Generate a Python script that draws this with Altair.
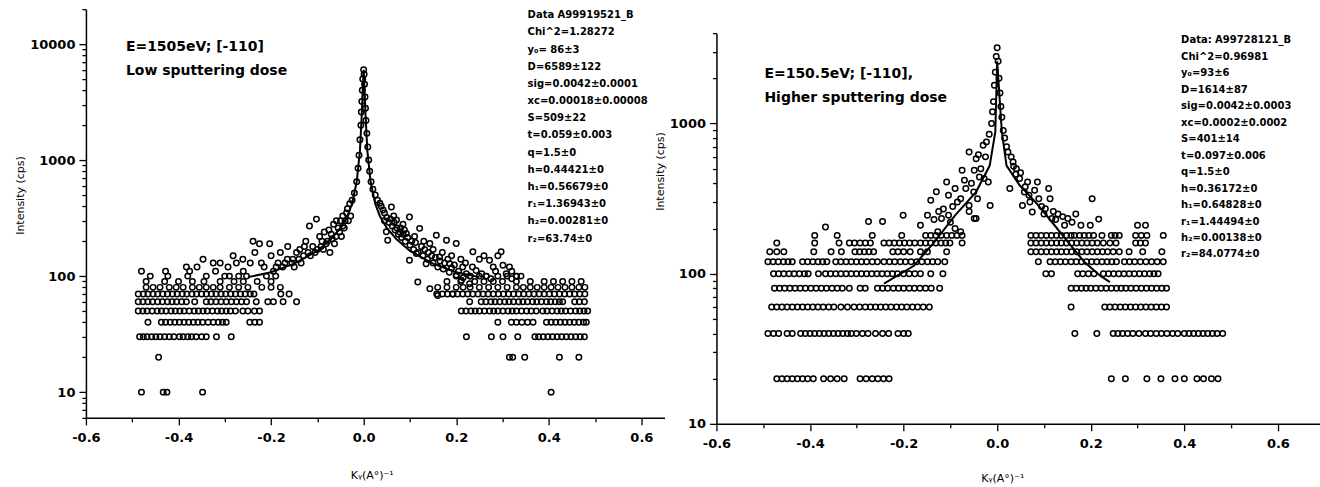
import altair as alt
import pandas as pd

# ---------------- LEFT PANEL  (E=1505eV, low sputtering dose) ----------------
L_LEVEL_Y = [10, 20, 30, 40, 50, 60, 70, 80, 90, 100]
L_LEVEL_X = [
    [-0.480, -0.433, -0.425, -0.348, 0.405],
    [-0.443, 0.315, 0.322, 0.348, 0.423, 0.465],
    [-0.484, -0.476, -0.468, -0.458, -0.449, -0.440, -0.430, -0.420, -0.410, -0.398, -0.390,
     -0.380, -0.372, -0.362, -0.350, -0.340, -0.318, -0.286, 0.222, 0.276, 0.301, 0.333, 0.370,
     0.378, 0.388, 0.398, 0.408, 0.418, 0.428, 0.438, 0.448, 0.458, 0.468, 0.477],
    [-0.466, -0.437, -0.428, -0.418, -0.408, -0.398, -0.388, -0.378, -0.368, -0.358, -0.348,
     -0.336, -0.325, -0.314, -0.305, -0.297, -0.246, -0.235, -0.225, 0.290, 0.319, 0.330, 0.342,
     0.354, 0.366, 0.395, 0.405, 0.415, 0.425, 0.435, 0.445, 0.455, 0.465, 0.475, 0.481],
    [-0.487, -0.477, -0.468, -0.457, -0.446, -0.437, -0.427, -0.416, -0.407, -0.397, -0.388,
     -0.377, -0.366, -0.357, -0.347, -0.338, -0.327, -0.316, -0.307, -0.297, -0.288, -0.277,
     -0.261, -0.250, -0.236, -0.225, 0.211, 0.221, 0.232, 0.241, 0.250, 0.261, 0.272, 0.281,
     0.290, 0.301, 0.312, 0.321, 0.330, 0.341, 0.352, 0.362, 0.373, 0.387, 0.396, 0.407, 0.418,
     0.427, 0.436, 0.447, 0.458, 0.467, 0.476, 0.484],
    [-0.487, -0.477, -0.466, -0.456, -0.445, -0.435, -0.424, -0.414, -0.404, -0.393, -0.383,
     -0.365, -0.340, -0.330, -0.319, -0.308, -0.297, -0.286, -0.275, -0.264, -0.253, -0.232,
     -0.207, -0.195, -0.174, -0.145, 0.229, 0.254, 0.264, 0.275, 0.284, 0.294, 0.305, 0.314,
     0.324, 0.335, 0.344, 0.354, 0.365, 0.374, 0.384, 0.395, 0.404, 0.414, 0.423, 0.430, 0.456,
     0.466, 0.477],
    [-0.487, -0.476, -0.466, -0.455, -0.445, -0.434, -0.424, -0.413, -0.403, -0.392, -0.382,
     -0.371, -0.361, -0.350, -0.340, -0.329, -0.319, -0.308, -0.298, -0.287, -0.277, -0.266,
     -0.256, -0.245, -0.237, -0.179, -0.161, 0.158, 0.170, 0.181, 0.192, 0.203, 0.214, 0.225,
     0.236, 0.247, 0.258, 0.269, 0.280, 0.291, 0.302, 0.313, 0.324, 0.335, 0.346, 0.357, 0.368,
     0.379, 0.390, 0.401, 0.412, 0.423, 0.434, 0.445, 0.456, 0.467, 0.478],
    [-0.470, -0.455, -0.440, -0.420, -0.405, -0.390, -0.370, -0.355, -0.340, -0.325, -0.310,
     -0.290, -0.270, -0.250, -0.220, -0.200, -0.180, 0.160, 0.180, 0.200, 0.215, 0.230, 0.250,
     0.270, 0.290, 0.310, 0.330, 0.345, 0.360, 0.375, 0.390, 0.405, 0.420, 0.435, 0.450, 0.465,
     0.478],
    [-0.470, -0.430, -0.400, -0.370, -0.345, -0.310, -0.280, -0.260, -0.230, -0.200, 0.180,
     0.210, 0.240, 0.260, 0.280, 0.300, 0.330, 0.360, 0.390, 0.410, 0.430, 0.450, 0.470],
    [-0.461, -0.423, -0.380, -0.340, -0.300, -0.270, -0.253, -0.210, -0.190, 0.200, 0.230, 0.250,
     0.265, 0.290, 0.310, 0.330],
]
L_BAND_X = [-0.480, -0.428, -0.383, -0.376, -0.347, -0.325, -0.360, -0.310, -0.282, -0.293,
            -0.261, -0.245, -0.235, -0.239, -0.225, -0.203, -0.221, -0.189, -0.200, -0.180,
            -0.170, -0.164, -0.153, -0.150, -0.140, -0.138, -0.130, -0.125, -0.120, -0.117,
            -0.110, -0.102, -0.100, -0.095, -0.090, -0.085, -0.081, -0.075, -0.073, -0.070,
            -0.065, -0.060, -0.059, -0.055, -0.050, -0.045, -0.045, -0.040, -0.037, -0.035,
            -0.030, -0.025, -0.020, -0.015, -0.012, -0.010, -0.008, -0.006, -0.005, -0.004,
            -0.003, -0.002, 0.000, 0.001, 0.002, 0.003, 0.004, 0.005, 0.007, 0.009, 0.011,
            0.013, 0.016, 0.020, 0.025, 0.030, 0.035, 0.038, 0.042, 0.045, 0.049, 0.050,
            0.052, 0.055, 0.060, 0.062, 0.065, 0.068, 0.071, 0.075, 0.080, 0.082, 0.085,
            0.090, 0.092, 0.099, 0.099, 0.100, 0.108, 0.110, 0.114, 0.117, 0.118, 0.121,
            0.128, 0.130, 0.135, 0.138, 0.143, 0.143, 0.150, 0.150, 0.157, 0.160, 0.160,
            0.164, 0.170, 0.172, 0.179, 0.185, 0.186, 0.190, 0.193, 0.200, 0.200, 0.210,
            0.211, 0.214, 0.215, 0.220, 0.229, 0.230, 0.236, 0.243, 0.250, 0.260, 0.265,
            0.272, 0.280, 0.297, 0.301, 0.308, 0.320, 0.330,
            -0.320, -0.290, -0.275, -0.260, -0.215, -0.195, -0.185, -0.175, -0.165, -0.155,
            -0.145, -0.135, -0.128, -0.115, -0.105, -0.092, -0.087, -0.078, -0.068, -0.063,
            -0.052, -0.048, -0.042, -0.033, -0.028,
            0.045, 0.058, 0.066, 0.072, 0.078, 0.085, 0.088, 0.095, 0.104, 0.112, 0.125,
            0.132, 0.140, 0.147, 0.155, 0.165, 0.175, 0.182, 0.190, 0.196, 0.205, 0.222,
            0.235, 0.255, 0.275, 0.285, 0.290, 0.315, 0.320, 0.340]
L_BAND_Y = [110, 110, 120, 110, 140, 130, 120, 130, 150, 120,
            140, 130, 160, 200, 190, 190, 130, 120, 150, 160,
            130, 180, 140, 120, 140, 170, 150, 200, 160, 270,
            180, 310, 170, 220, 200, 240, 190, 250, 160, 230,
            280, 220, 300, 260, 300, 270, 330, 300, 350, 380,
            420, 450, 520, 650, 850, 1100, 1500, 2000, 2600, 3200,
            4000, 5000, 6000, 5500, 4500, 3500, 2800, 2200, 1700, 1300, 1000,
            800, 650, 560, 500, 450, 424, 400, 371, 350, 241, 320,
            204, 290, 395, 270, 330, 250, 304, 230, 260, 215, 280,
            200, 233, 324, 137, 185, 170, 220, 157, 89, 160, 258,
            150, 200, 128, 140, 191, 78, 130, 170, 225, 120, 68,
            146, 160, 115, 204, 108, 128, 150, 70, 191, 102, 140,
            92, 120, 97, 130, 86, 100, 162, 112, 140, 150, 100,
            137, 120, 162, 124, 105, 110, 100,
            110, 100, 130, 110, 120, 110, 130, 120, 140, 130,
            160, 130, 180, 150, 160, 180, 170, 200, 210, 190,
            240, 220, 260, 300, 330,
            300, 310, 290, 260, 240, 230, 250, 215, 200, 195, 180,
            170, 160, 150, 145, 135, 130, 140, 118, 125, 110, 105,
            120, 105, 95, 110, 150, 120, 95, 100]
L_FIT_X = [-0.250, -0.200, -0.150, -0.100, -0.070, -0.050, -0.035, -0.025, -0.015, -0.008,
           -0.004, -0.002, 0.000, 0.002, 0.004, 0.008, 0.015, 0.025, 0.035, 0.050, 0.070,
           0.100, 0.150, 0.200, 0.250]
L_FIT_Y = [98, 108, 128, 165, 210, 260, 330, 420, 650, 1200, 2500, 4000, 6000, 4000, 2500,
           1200, 650, 420, 330, 260, 210, 165, 128, 108, 98]
L_PARAMS = ["Data A99919521_B", "Chi^2=1.28272", "y\u2080= 86\u00b13", "D=6589\u00b1122",
            "sig=0.0042\u00b10.0001", "xc=0.00018\u00b10.00008", "S=509\u00b122",
            "t=0.059\u00b10.003", "q=1.5\u00b10", "h=0.44421\u00b10", "h\u2081=0.56679\u00b10",
            "r\u2081=1.36943\u00b10", "h\u2082=0.00281\u00b10", "r\u2082=63.74\u00b10"]
L_LABEL = ["E=1505eV; [-110]", "Low sputtering dose"]
L_YTICKS = [6, 7, 8, 9, 10, 20, 30, 40, 50, 60, 70, 80, 90, 100, 200, 300, 400, 500, 600,
            700, 800, 900, 1000, 2000, 3000, 4000, 5000, 6000, 7000, 8000, 9000, 10000, 20000]

# ---------------- RIGHT PANEL  (E=150.5eV, higher sputtering dose) ----------------
R_LEVEL_Y = [20, 40, 60, 80, 100, 120, 140, 160, 180]
R_LEVEL_X = [
    [-0.471, -0.460, -0.449, -0.438, -0.427, -0.416, -0.405, -0.393, -0.371, -0.356, -0.342,
     -0.327, -0.293, -0.280, -0.267, -0.255, -0.243, -0.231, 0.244, 0.274, 0.320, 0.350, 0.380,
     0.400, 0.427, 0.441, 0.458, 0.472],
    [-0.490, -0.478, -0.467, -0.449, -0.438, -0.420, -0.410, -0.400, -0.390, -0.380, -0.370,
     -0.360, -0.350, -0.340, -0.330, -0.320, -0.312, -0.301, -0.288, -0.276, -0.260, -0.245,
     -0.232, -0.212, -0.200, -0.190, 0.166, 0.213, 0.248, 0.258, 0.268, 0.279, 0.290, 0.303,
     0.317, 0.328, 0.340, 0.351, 0.363, 0.375, 0.386, 0.400, 0.410, 0.420, 0.430, 0.440, 0.450,
     0.460, 0.470, 0.482],
    [-0.482, -0.471, -0.460, -0.449, -0.438, -0.427, -0.416, -0.405, -0.394, -0.383, -0.372,
     -0.360, -0.349, -0.334, -0.320, -0.306, -0.294, -0.282, -0.271, -0.260, -0.249, -0.238,
     -0.227, -0.215, -0.204, -0.193, -0.181, -0.170, -0.158, -0.145, 0.158, 0.230, 0.241,
     0.252, 0.263, 0.274, 0.285, 0.296, 0.307, 0.318, 0.329, 0.340, 0.351, 0.362],
    [-0.476, -0.465, -0.454, -0.443, -0.432, -0.421, -0.410, -0.398, -0.387, -0.376, -0.365,
     -0.353, -0.342, -0.331, -0.316, -0.293, -0.282, -0.256, -0.245, -0.234, -0.222, -0.211,
     -0.200, -0.188, -0.177, -0.165, -0.153, -0.141, -0.123, 0.158, 0.169, 0.180, 0.190, 0.200,
     0.211, 0.222, 0.233, 0.244, 0.255, 0.265, 0.275, 0.286, 0.297, 0.308, 0.319, 0.330, 0.341,
     0.352, 0.362],
    [-0.478, -0.467, -0.456, -0.445, -0.434, -0.423, -0.412, -0.404, -0.382, -0.367, -0.356,
     -0.345, -0.334, -0.323, -0.312, -0.301, -0.290, -0.279, -0.268, -0.257, -0.246, -0.235,
     -0.224, -0.213, -0.200, -0.188, -0.176, -0.164, -0.142, -0.116, 0.104, 0.116, 0.172,
     0.183, 0.195, 0.207, 0.227, 0.238, 0.249, 0.260, 0.271, 0.282, 0.293, 0.304, 0.315, 0.326,
     0.335, 0.344],
    [-0.490, -0.479, -0.468, -0.457, -0.447, -0.438, -0.416, -0.405, -0.394, -0.383, -0.373,
     -0.364, -0.345, -0.334, -0.323, -0.312, -0.301, -0.290, -0.279, -0.267, -0.256, -0.242,
     -0.230, -0.219, -0.207, -0.196, -0.184, -0.172, -0.161, -0.149, -0.138, -0.127, -0.112,
     0.088, 0.113, 0.124, 0.135, 0.146, 0.158, 0.169, 0.180, 0.191, 0.202, 0.213, 0.224, 0.235,
     0.245, 0.255, 0.272, 0.283, 0.294, 0.306, 0.318, 0.330, 0.342, 0.355],
    [-0.486, -0.471, -0.456, -0.392, -0.355, -0.333, -0.304, -0.294, -0.284, -0.274, -0.264,
     -0.223, -0.212, -0.200, -0.186, -0.164, -0.149, -0.108, 0.072, 0.083, 0.094, 0.105, 0.116,
     0.127, 0.137, 0.148, 0.159, 0.170, 0.181, 0.192, 0.203, 0.214, 0.225, 0.236, 0.248, 0.261,
     0.282, 0.311, 0.352],
    [-0.471, -0.390, -0.338, -0.316, -0.305, -0.293, -0.282, -0.271, -0.242, -0.231, -0.220,
     -0.209, -0.198, -0.187, -0.176, -0.164, -0.153, -0.142, -0.131, -0.120, -0.110, -0.101,
     -0.075, 0.072, 0.083, 0.094, 0.105, 0.116, 0.127, 0.137, 0.148, 0.159, 0.170, 0.181,
     0.192, 0.203, 0.214, 0.227, 0.241, 0.254, 0.296, 0.306, 0.317],
    [-0.390, -0.342, -0.267, -0.204, -0.153, -0.142, -0.131, -0.120, -0.108, -0.097, -0.086,
     -0.075, 0.072, 0.083, 0.094, 0.105, 0.116, 0.127, 0.137, 0.148, 0.158, 0.165, 0.176,
     0.186, 0.196, 0.206, 0.224, 0.244, 0.252, 0.261, 0.296, 0.308, 0.320, 0.355],
]
R_BAND_X = [-0.367, -0.275, -0.245, -0.201, -0.164, -0.149, -0.142, -0.135, -0.130, -0.127,
            -0.125, -0.119, -0.115, -0.108, -0.104, -0.104, -0.100, -0.095, -0.090, -0.090,
            -0.085, -0.078, -0.078, -0.075, -0.070, -0.067, -0.060, -0.060, -0.060, -0.055,
            -0.050, -0.049, -0.049, -0.045, -0.045, -0.042, -0.040, -0.038, -0.035, -0.030,
            -0.028, -0.025, -0.023, -0.019, -0.017, -0.015, -0.012, -0.010, -0.008, -0.006,
            -0.004, -0.002, 0.000, 0.002, 0.004, 0.006, 0.008, 0.010, 0.013, 0.016, 0.020,
            0.023, 0.027, 0.030, 0.034, 0.035, 0.040, 0.041, 0.048, 0.050, 0.054, 0.058,
            0.060, 0.065, 0.068, 0.070, 0.075, 0.080, 0.086, 0.089, 0.095, 0.100, 0.103,
            0.110, 0.113, 0.117, 0.120, 0.125, 0.130, 0.140, 0.144, 0.151, 0.160, 0.168,
            0.179, 0.199, 0.203, 0.217, 0.300, 0.317]
R_BAND_Y = [205, 223, 223, 245, 210, 245, 308, 230, 351, 190,
            260, 233, 270, 408, 333, 245, 220, 280, 369, 200,
            300, 316, 190, 488, 420, 369, 647, 285, 260, 400,
            350, 488, 233, 583, 233, 316, 620, 441, 500, 716,
            430, 600, 755, 408, 850, 285, 1000, 1200, 1400, 1800,
            2200, 2800, 3200, 2600, 2000, 1600, 1300, 1100, 900, 800, 700,
            647, 369, 600, 555, 520, 460, 501, 430, 470, 285, 350,
            380, 408, 333, 300, 258, 360, 408, 316, 280, 250, 271,
            369, 316, 233, 260, 230, 250, 240, 210, 233, 220, 250,
            210, 210, 316, 231, 210, 210]
R_FIT_X = [-0.242, -0.178, -0.134, -0.090, -0.045, -0.016, -0.004, 0.000, 0.010, 0.020,
           0.048, 0.082, 0.117, 0.151, 0.186, 0.220, 0.241]
R_FIT_Y = [86, 113, 163, 245, 351, 525, 880, 2600, 880, 525, 388, 300, 221, 163, 120, 97, 88]
R_PARAMS = ["Data: A99728121_B", "Chi^2=0.96981", "y\u2080=93\u00b16", "D=1614\u00b187",
            "sig=0.0042\u00b10.0003", "xc=0.0002\u00b10.0002", "S=401\u00b114",
            "t=0.097\u00b10.006", "q=1.5\u00b10", "h=0.36172\u00b10", "h\u2081=0.64828\u00b10",
            "r\u2081=1.44494\u00b10", "h\u2082=0.00138\u00b10", "r\u2082=84.0774\u00b10"]
R_LABEL = ["E=150.5eV; [-110],", "Higher sputtering dose"]
R_YTICKS = [10, 20, 30, 40, 50, 60, 70, 80, 90, 100, 200, 300, 400, 500, 600, 700, 800,
            900, 1000, 2000, 3000, 4000]

X_TICKS = [-0.6, -0.5, -0.4, -0.3, -0.2, -0.1, 0.0, 0.1, 0.2, 0.3, 0.4, 0.5, 0.6]
X_TITLE = "K\u1d67(A\u00b0)\u207b\u00b9"
Y_TITLE = "Intensity (cps)"

FONT = "DejaVu Sans"


def points_frame(level_y, level_x, band_x, band_y):
    rows = []
    for lvl, xs in zip(level_y, level_x):
        rows += [{"x": x, "y": lvl} for x in xs]
    rows += [{"x": x, "y": y} for x, y in zip(band_x, band_y)]
    return pd.DataFrame(rows)


X_MAJOR = "abs(datum.value*5 - round(datum.value*5)) < 0.01"
Y_MAJOR = "abs(log(datum.value)/LN10 - round(log(datum.value)/LN10)) < 0.01"


def panel(pts, fit_x, fit_y, xdom, ydom, yticks, w, h, params, params_pos, line_h, label,
          label_pos, xtitle_pad, ytitle_y):
    xs = alt.X("x:Q", scale=alt.Scale(domain=xdom, nice=False, zero=False),
               axis=alt.Axis(values=X_TICKS, title=X_TITLE, grid=False,
                             labelExpr=f"{X_MAJOR} ? replace(format(datum.value, '.1f'), '\u2212', '-') : ''",
                             tickSize={"condition": {"test": X_MAJOR, "value": 7}, "value": 4},
                             labelFlush=False, labelOverlap=False, labelPadding=7,
                             titlePadding=xtitle_pad, titleX=286))
    ys = alt.Y("y:Q", scale=alt.Scale(type="log", domain=ydom, nice=False),
               axis=alt.Axis(values=yticks, title=Y_TITLE, grid=False,
                             labelExpr=f"{Y_MAJOR} ? format(datum.value, 'd') : ''",
                             tickSize={"condition": {"test": Y_MAJOR, "value": 7}, "value": 4},
                             labelOverlap=False, labelPadding=4, titlePadding=4,
                             titleY=ytitle_y))
    sc = alt.Chart(pts).mark_point(shape="circle", filled=False, color="black", size=30,
                                   strokeWidth=1.5, opacity=1).encode(x=xs, y=ys)
    fit = pd.DataFrame({"x": fit_x, "y": fit_y})
    ln = alt.Chart(fit).mark_line(color="black", strokeWidth=2).encode(x="x:Q", y="y:Q")
    one = pd.DataFrame({"k": [0]})
    ptxt = alt.Chart(one).mark_text(align="left", baseline="top", font=FONT, fontSize=10,
                                    fontWeight="bold", lineHeight=line_h, color="black").encode(
        x=alt.value(params_pos[0]), y=alt.value(params_pos[1]), text=alt.value(params))
    ltxt = alt.Chart(one).mark_text(align="left", baseline="middle", font=FONT, fontSize=14,
                                    fontWeight="bold", lineHeight=24, color="black").encode(
        x=alt.value(label_pos[0]), y=alt.value(label_pos[1]), text=alt.value(label))
    return alt.layer(sc, ln, ptxt, ltxt).properties(width=w, height=h)


left = panel(points_frame(L_LEVEL_Y, L_LEVEL_X, L_BAND_X, L_BAND_Y), L_FIT_X, L_FIT_Y,
             [-0.6, 0.65], [6, 20000], L_YTICKS, 579, 409, L_PARAMS, (442, 1), 17.2, L_LABEL,
             (40, 38), 25, 186)
right_main = panel(points_frame(R_LEVEL_Y, R_LEVEL_X, R_BAND_X, R_BAND_Y), R_FIT_X, R_FIT_Y,
                   [-0.6, 0.69], [10, 4000], R_YTICKS, 604, 391, R_PARAMS, (465, 2), 16.5,
                   R_LABEL, (48, 41), 22, 138)
spacer = alt.Chart(pd.DataFrame({"v": [0]})).mark_point(opacity=0).encode(
    x=alt.X("v:Q", axis=None), y=alt.Y("v:Q", axis=None)).properties(width=604, height=18)
right = alt.vconcat(spacer, right_main, spacing=0)

chart = alt.hconcat(left, right, spacing=52, bounds="flush").properties(
    padding={"left": 14, "top": 3, "right": 0, "bottom": 0}
).configure_view(stroke=None).configure_axis(
    domainColor="black", domainWidth=1.5, tickColor="black", tickWidth=1.3,
    labelColor="black", labelFont=FONT, labelFontSize=13, labelFontWeight="bold",
    titleColor="black", titleFont=FONT, titleFontSize=11, titleFontWeight="normal"
)

chart.save("out.html", embed_options={"renderer": "svg", "actions": False})
